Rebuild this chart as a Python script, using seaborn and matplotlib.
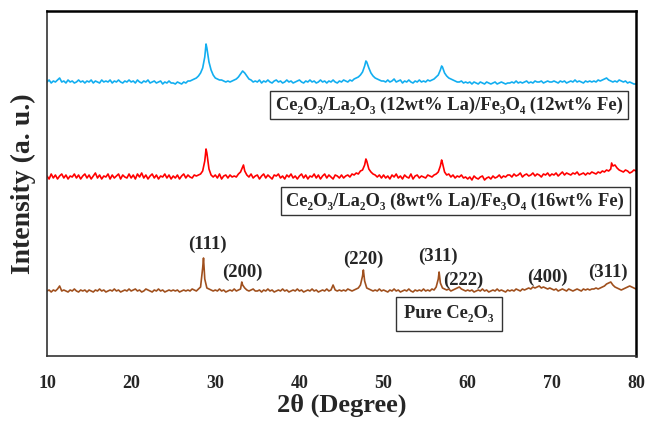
import numpy as np
import pandas as pd
import seaborn as sns
import matplotlib.pyplot as plt

# 2theta grid, every 0.25 degree from 10 to 80
two_theta = np.arange(10, 80.001, 0.25)

# intensities (arbitrary units, baseline ~10), one row = 5 degrees
blue_vals = [10, 12, 9, 11, 10, 12, 14, 10, 11, 9, 12, 10, 11, 9, 10, 12, 10, 11, 9, 11,
             10, 12, 9, 11, 10, 9, 12, 10, 11, 10, 12, 9, 11, 10, 12, 10, 9, 11, 10, 12,
             10, 11, 9, 12, 10, 9, 11, 10, 12, 9, 10, 11, 9, 10, 11, 8, 10, 9, 11, 9,
             9, 8, 10, 9, 8, 10, 9, 11, 11, 12, 13, 14, 16, 19, 24, 35, 44, 30, 22, 17,
             14, 13, 12, 12, 11, 10, 11, 10, 11, 12, 13, 15, 18, 21, 19, 16, 13, 12, 10, 11,
             10, 12, 9, 11, 10, 12, 10, 9, 11, 12, 10, 11, 9, 10, 12, 10, 11, 9, 10, 11,
             12, 10, 9, 11, 10, 12, 10, 11, 9, 10, 12, 10, 11, 9, 11, 10, 12, 10, 9, 11,
             10, 12, 11, 10, 12, 11, 13, 14, 15, 17, 20, 26, 30, 24, 19, 16, 14, 13, 12, 11,
             11, 10, 12, 10, 11, 13, 10, 11, 12, 9, 11, 10, 12, 10, 9, 11, 10, 12, 10, 11,
             10, 12, 11, 12, 13, 15, 17, 22, 25, 19, 16, 14, 13, 12, 11, 10, 10, 11, 9, 10,
             9, 10, 8, 10, 9, 8, 10, 9, 8, 10, 9, 8, 9, 10, 8, 9, 10, 9, 8, 9,
             9, 10, 9, 11, 9, 10, 9, 10, 11, 9, 10, 9, 11, 10, 10, 11, 9, 10, 11, 10,
             10, 11, 10, 9, 11, 10, 11, 9, 10, 11, 10, 12, 10, 11, 10, 9, 11, 10, 11, 10,
             11, 10, 12, 11, 12, 13, 14, 12, 11, 10, 11, 10, 12, 11, 10, 11, 9, 10, 9, 8,
             8]
red_vals = [11, 8, 13, 9, 12, 8, 11, 13, 9, 12, 8, 11, 10, 13, 9, 12, 8, 11, 13, 9,
            12, 8, 11, 14, 9, 12, 8, 11, 10, 13, 8, 12, 9, 11, 13, 8, 12, 10, 9, 13,
            9, 12, 8, 13, 10, 14, 9, 12, 8, 11, 13, 9, 12, 8, 11, 10, 13, 9, 12, 8,
            11, 9, 12, 8, 11, 13, 9, 12, 10, 9, 12, 11, 12, 13, 16, 26, 34, 18, 12, 10,
            12, 9, 13, 8, 11, 12, 9, 12, 10, 11, 10, 13, 15, 20, 16, 12, 10, 13, 9, 11,
            12, 8, 11, 13, 9, 12, 10, 8, 12, 11, 13, 9, 11, 8, 12, 10, 13, 9, 11, 8,
            11, 13, 9, 12, 8, 11, 10, 13, 9, 12, 8, 11, 13, 9, 12, 10, 8, 12, 11, 9,
            12, 9, 11, 12, 10, 13, 12, 14, 13, 16, 17, 22, 26, 18, 15, 13, 12, 10, 12, 9,
            12, 9, 11, 8, 12, 10, 13, 9, 11, 8, 12, 10, 9, 13, 8, 11, 12, 9, 11, 10,
            9, 12, 11, 10, 12, 13, 15, 21, 24, 15, 12, 13, 10, 12, 9, 11, 10, 12, 9, 10,
            8, 10, 7, 11, 9, 8, 10, 11, 7, 9, 10, 8, 11, 9, 10, 12, 9, 11, 10, 12,
            12, 10, 13, 11, 12, 14, 10, 12, 13, 11, 12, 14, 11, 13, 12, 10, 13, 12, 14, 11,
            13, 12, 14, 11, 13, 15, 12, 14, 13, 12, 14, 13, 15, 12, 13, 14, 12, 14, 13, 15,
            14, 13, 15, 14, 16, 15, 17, 16, 18, 21, 22, 19, 17, 16, 15, 17, 16, 14, 15, 17,
            16]
brown_vals = [10, 11, 9, 11, 10, 12, 15, 10, 11, 10, 9, 11, 10, 12, 10, 9, 11, 10, 11, 9,
              11, 10, 9, 11, 10, 12, 10, 11, 9, 10, 11, 10, 12, 10, 11, 9, 10, 11, 10, 12,
              10, 11, 12, 10, 11, 9, 10, 12, 11, 10, 9, 11, 10, 12, 10, 11, 9, 10, 11, 10,
              11, 10, 11, 9, 10, 11, 10, 11, 10, 12, 11, 10, 12, 14, 33, 22, 13, 12, 11, 10,
              11, 10, 12, 10, 11, 9, 10, 11, 10, 12, 10, 11, 12, 16, 13, 11, 10, 11, 12, 10,
              10, 11, 9, 11, 10, 12, 10, 11, 9, 10, 11, 10, 12, 10, 11, 9, 10, 11, 10, 12,
              10, 11, 9, 10, 11, 10, 12, 10, 11, 9, 10, 11, 10, 12, 10, 11, 16, 11, 10, 11,
              10, 11, 10, 12, 11, 10, 11, 12, 13, 16, 25, 20, 13, 12, 11, 10, 11, 10, 12, 10,
              11, 10, 9, 11, 10, 12, 10, 11, 9, 10, 11, 10, 12, 10, 9, 11, 10, 11, 10, 12,
              10, 11, 10, 12, 11, 14, 22, 18, 13, 12, 11, 12, 10, 11, 12, 13, 14, 12, 11, 10,
              11, 10, 11, 9, 10, 11, 10, 12, 10, 11, 9, 10, 11, 10, 12, 10, 11, 10, 9, 11,
              10, 11, 10, 12, 11, 10, 12, 11, 12, 13, 12, 14, 13, 14, 15, 13, 14, 13, 12, 13,
              12, 11, 12, 10, 11, 12, 11, 10, 12, 11, 10, 11, 12, 11, 10, 12, 11, 12, 11, 12,
              12, 13, 12, 13, 14, 15, 17, 18, 19, 16, 14, 13, 12, 11, 12, 13, 14, 15, 14, 13,
              12]

# extra points read at the tips of the sharp peaks
blue_peak_x = [28.9, 47.9, 56.9]
blue_peak_y = [48, 31, 26]
red_peak_x = [28.9, 33.35, 47.9, 56.9, 77.1]
red_peak_y = [38, 22, 28, 27, 24]
brown_peak_x = [28.6, 33.15, 47.6, 56.6]
brown_peak_y = [43, 19, 31, 29]

labels = ["Ce₂O₃/La₂O₃ (12wt% La)/Fe₃O₄ (12wt% Fe)",
          "Ce₂O₃/La₂O₃ (8wt% La)/Fe₃O₄ (16wt% Fe)",
          "Pure Ce₂O₃"]
hkl = ["(111)", "(200)", "(220)", "(311)", "(222)", "(400)", "(311)"]
hkl_x = [29.1, 33.2, 47.6, 56.5, 59.5, 69.5, 76.7]
hkl_y = [112, 84, 97, 100, 76, 79, 84]

serif = ['Liberation Serif', 'DejaVu Serif']
sns.set_style("white")
plt.rcParams['font.family'] = serif
plt.rcParams['font.weight'] = 'bold'

fig = plt.figure(figsize=(6.46, 4.21), dpi=100)
ax = fig.add_axes([47 / 646, 65 / 421, 589 / 646, 345 / 421])

series = [(blue_vals, blue_peak_x, blue_peak_y, '#12aef0', 274),
          (red_vals, red_peak_x, red_peak_y, '#ff0000', 179),
          (brown_vals, brown_peak_x, brown_peak_y, '#a0501e', 65)]
for vals, px, py, col, off in series:
    df = pd.DataFrame({'x': np.concatenate([two_theta, px]),
                       'y': np.concatenate([vals, py])}).sort_values('x')
    df['y'] = df['y'] + off - 10
    sns.lineplot(data=df, x='x', y='y', color=col, lw=1.2, errorbar=None, ax=ax)

box = dict(boxstyle='square,pad=0.3', fc='white', ec='#333333', lw=1)
ax.text(57.8, 251, labels[0], ha='center', va='center', fontsize=13.3, fontweight='bold', bbox=box)
ax.text(58.5, 155, labels[1], ha='center', va='center', fontsize=13.3, fontweight='bold', bbox=box)
ax.text(57.8, 42, labels[2], ha='center', va='center', fontsize=13.3, fontweight='bold',
        bbox=dict(boxstyle='square,pad=0.45', fc='white', ec='#333333', lw=1))
for t, x, y in zip(hkl, hkl_x, hkl_y):
    ax.text(x, y, t, ha='center', va='center', fontsize=13.5, fontweight='bold')

ax.set_xlim(10, 80)
ax.set_ylim(0, 345)
ax.set_xticks(range(10, 81, 10))
ax.set_yticks([])
ax.tick_params(axis='x', direction='out', length=5, color='#999999', width=0.8,
               labelsize=13, pad=9)
for lab in ax.get_xticklabels():
    lab.set_fontweight('bold')
ax.set_xlabel("2θ (Degree)", fontsize=19, fontweight='bold', labelpad=1)
ax.set_ylabel("Intensity (a. u.)", fontsize=20, fontweight='bold', labelpad=8)
for s in ['left', 'bottom']:
    ax.spines[s].set_color('#333333')
    ax.spines[s].set_linewidth(1.2)
for s in ['top', 'right']:
    ax.spines[s].set_color('black')
    ax.spines[s].set_linewidth(1.8)

fig.savefig('out.png', dpi=100)
